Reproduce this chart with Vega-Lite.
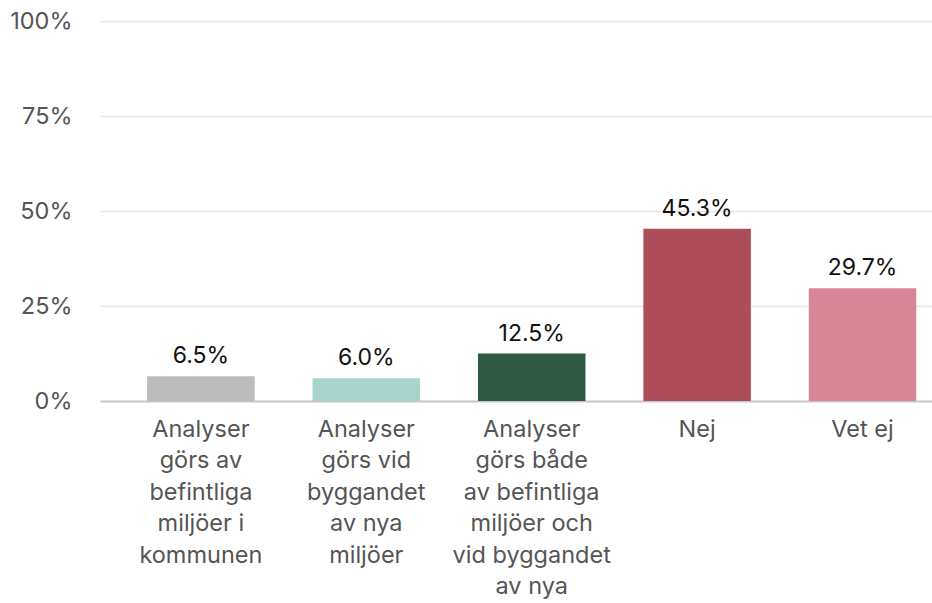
{
  "$schema": "https://vega.github.io/schema/vega-lite/v6.json",
  "width": 832,
  "height": 380,
  "autosize": {"type": "none"},
  "padding": {"left": 100, "top": 21, "right": 0, "bottom": 202},
  "background": "white",
  "config": {"view": {"stroke": null}, "font": "Inter"},
  "data": {
    "values": [
      {"label": "Analyser|görs av|befintliga|miljöer i|kommunen", "value": 0.065},
      {"label": "Analyser|görs vid|byggandet|av nya|miljöer", "value": 0.06},
      {"label": "Analyser|görs både|av befintliga|miljöer och|vid byggandet|av nya", "value": 0.125},
      {"label": "Nej", "value": 0.453},
      {"label": "Vet ej", "value": 0.297}
    ]
  },
  "encoding": {
    "x": {
      "field": "label",
      "type": "nominal",
      "sort": null,
      "scale": {"paddingInner": 0.35, "paddingOuter": 0.19, "align": 0.75},
      "axis": {
        "title": null,
        "labelAngle": 0,
        "labelExpr": "split(datum.value, '|')",
        "labelFontSize": 23.5,
        "labelColor": "#555555",
        "labelLineHeight": 31.5,
        "labelPadding": 16,
        "labelLimit": 400,
        "ticks": false,
        "domainColor": "#c8c8c8",
        "domainWidth": 2
      }
    },
    "y": {
      "field": "value",
      "type": "quantitative",
      "scale": {"domain": [0, 1]},
      "axis": {
        "title": null,
        "format": ".0%",
        "values": [0, 0.25, 0.5, 0.75, 1],
        "domain": false,
        "ticks": false,
        "labelPadding": 28,
        "labelFontSize": 23.5,
        "labelColor": "#555555",
        "gridColor": "#e6e6e6",
        "gridWidth": 1.5
      }
    }
  },
  "layer": [
    {
      "mark": {"type": "bar"},
      "encoding": {
        "color": {
          "field": "label",
          "type": "nominal",
          "scale": {
            "domain": [
              "Analyser|görs av|befintliga|miljöer i|kommunen",
              "Analyser|görs vid|byggandet|av nya|miljöer",
              "Analyser|görs både|av befintliga|miljöer och|vid byggandet|av nya",
              "Nej",
              "Vet ej"
            ],
            "range": ["#bcbcbc", "#a9d4cb", "#2e5a43", "#ad4e5a", "#d98598"]
          },
          "legend": null
        }
      }
    },
    {
      "mark": {"type": "text", "baseline": "alphabetic", "dy": -13, "fontSize": 23, "color": "#111111"},
      "encoding": {"text": {"field": "value", "type": "quantitative", "format": ".1%"}}
    }
  ]
}
